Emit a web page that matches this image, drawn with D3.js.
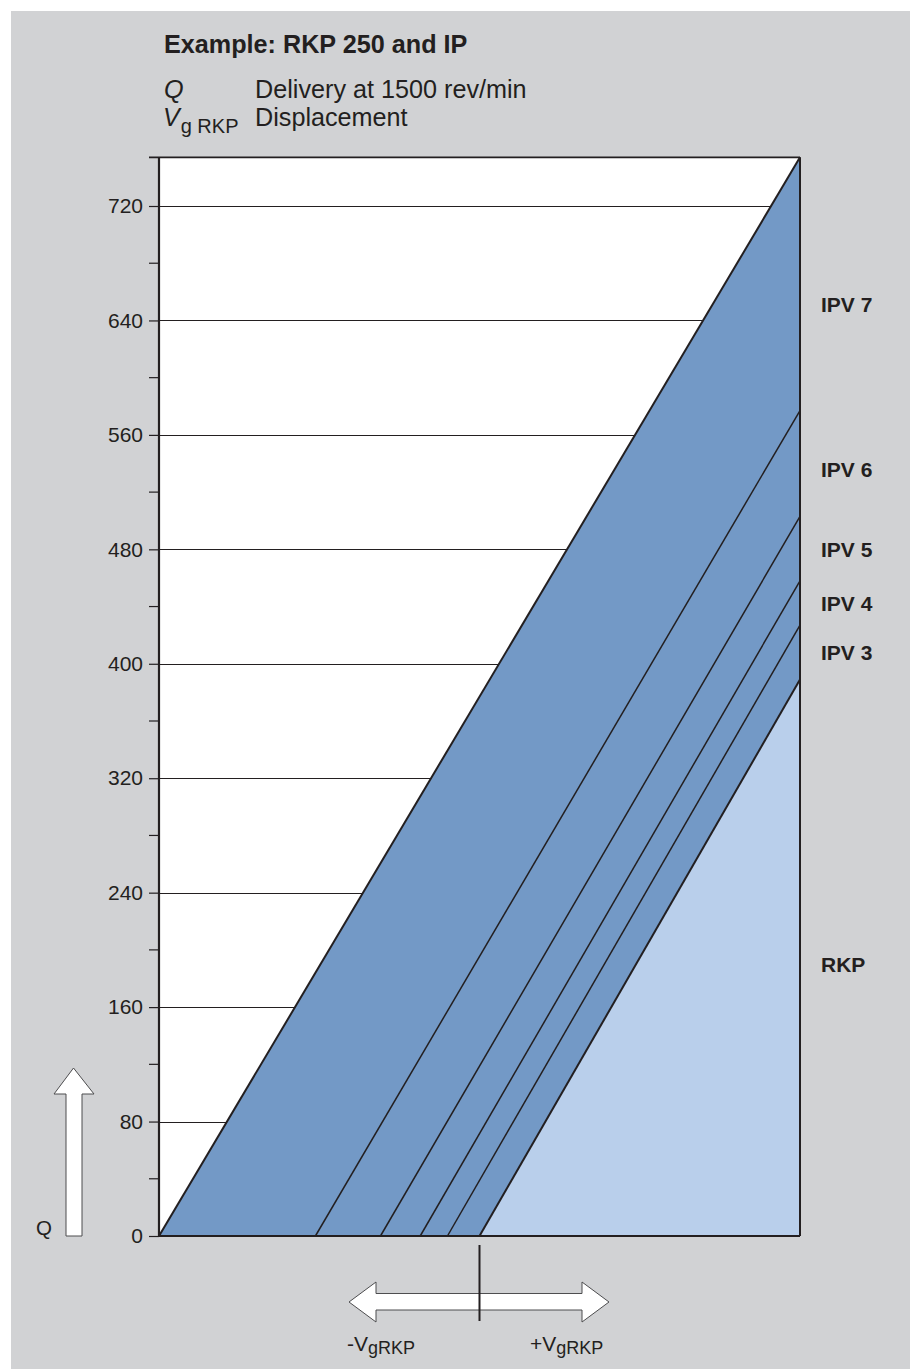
<!DOCTYPE html>
<html>
<head>
<meta charset="utf-8">
<script src="https://cdn.jsdelivr.net/npm/d3@7"></script>
<style>
  body { margin: 0; background: #ffffff; }
  svg { display: block; font-family: "Liberation Sans", Arial, Helvetica, sans-serif; }
</style>
</head>
<body>
<svg id="chart" width="910" height="1369"></svg>
<script>
// Delivery Q (l/min at 1500 rev/min) against RKP displacement, from -Vg to +Vg
const seriesNames = ["IPV 7", "IPV 6", "IPV 5", "IPV 4", "IPV 3", "RKP"];
const zeroDeliveryAt = [-1, -0.512, -0.309, -0.185, -0.100, 0];   // Vg fraction where Q = 0
const deliveryAtFull = [754, 577, 503, 458, 427, 389];              // Q at +Vg
const labelDelivery = [651, 536, 480, 442, 408, 190];               // Q where each name sits
const yTickValues = [0, 80, 160, 240, 320, 400, 480, 560, 640, 720];
const yMinorTickValues = [40, 120, 200, 280, 360, 440, 520, 600, 680];
const qMax = 754;

const ink = "#231f20";
const darkBlue = "#7399c6";
const lightBlue = "#b9cfeb";
const panelGrey = "#d1d2d4";

const svg = d3.select("#chart");

const x = d3.scaleLinear().domain([-1, 1]).range([159, 800]);
const y = d3.scaleLinear().domain([0, 720]).range([1236, 206]);

// grey panel
svg.append("rect").attr("x", 11).attr("y", 11).attr("width", 899).attr("height", 1358)
  .attr("fill", panelGrey);

// plot area
svg.append("rect")
  .attr("x", x(-1)).attr("y", y(qMax))
  .attr("width", x(1) - x(-1)).attr("height", y(0) - y(qMax))
  .attr("fill", "#ffffff");

// horizontal grid
svg.append("g").selectAll("line").data(yTickValues.filter(d => d > 0)).join("line")
  .attr("x1", x(-1)).attr("x2", x(1))
  .attr("y1", d => Math.round(y(d)) + 0.5).attr("y2", d => Math.round(y(d)) + 0.5)
  .attr("stroke", ink).attr("stroke-width", 1);

const line = d3.line().x(d => x(d[0])).y(d => y(d[1]));

// band under the IPV 7 line (all IP pump bands)
const last = seriesNames.length - 1;
svg.append("path")
  .attr("d", line([[zeroDeliveryAt[0], 0], [1, deliveryAtFull[0]], [1, 0]]) + "Z")
  .attr("fill", darkBlue);

// band under the RKP line
svg.append("path")
  .attr("d", line([[zeroDeliveryAt[last], 0], [1, deliveryAtFull[last]], [1, 0]]) + "Z")
  .attr("fill", lightBlue);

// characteristic lines
svg.append("g").selectAll("path").data(seriesNames).join("path")
  .attr("d", (d, i) => line([[zeroDeliveryAt[i], 0], [1, deliveryAtFull[i]]]))
  .attr("fill", "none")
  .attr("stroke", ink)
  .attr("stroke-width", (d, i) => (i === 0 || i === last) ? 2 : 1.5);

// frame
svg.append("line").attr("x1", 149).attr("x2", x(1)).attr("y1", y(qMax)).attr("y2", y(qMax))
  .attr("stroke", ink).attr("stroke-width", 1.6);
svg.append("line").attr("x1", x(1)).attr("x2", x(1)).attr("y1", y(qMax)).attr("y2", y(0))
  .attr("stroke", ink).attr("stroke-width", 2);
svg.append("line").attr("x1", x(-1)).attr("x2", x(1)).attr("y1", y(0)).attr("y2", y(0))
  .attr("stroke", ink).attr("stroke-width", 2.2);

// y axis
const yAxis = d3.axisLeft(y).tickValues(yTickValues).tickSize(10).tickPadding(6)
  .tickFormat(d3.format("d"));
const gAxis = svg.append("g").attr("transform", `translate(${x(-1)},0)`).call(yAxis);
gAxis.select(".domain").attr("d", `M0,${y(qMax)}V${y(0)}`).attr("stroke", ink).attr("stroke-width", 2.2);
gAxis.selectAll(".tick line").attr("stroke", ink).attr("stroke-width", 1.2);
gAxis.selectAll(".tick text").attr("font-size", 21).attr("fill", ink)
  .attr("font-family", "'Liberation Sans', Arial, sans-serif");
gAxis.attr("font-size", null).attr("font-family", null);

svg.append("g").selectAll("line").data(yMinorTickValues).join("line")
  .attr("x1", x(-1) - 10).attr("x2", x(-1))
  .attr("y1", d => y(d)).attr("y2", d => y(d))
  .attr("stroke", ink).attr("stroke-width", 1.2);

// series names at the right edge
svg.append("g").selectAll("text").data(seriesNames).join("text")
  .attr("x", 821)
  .attr("y", (d, i) => y(labelDelivery[i]))
  .attr("dy", "0.36em")
  .attr("font-size", 21).attr("font-weight", "bold").attr("fill", ink)
  .text(d => d);

// title and key
svg.append("text").attr("x", 164).attr("y", 53)
  .attr("font-size", 25.2).attr("font-weight", "bold").attr("fill", ink)
  .text("Example: RKP 250 and IP");

svg.append("text").attr("x", 164).attr("y", 98)
  .attr("font-size", 25.2).attr("font-style", "italic").attr("fill", ink).text("Q");
svg.append("text").attr("x", 255).attr("y", 98)
  .attr("font-size", 25.2).attr("fill", ink).text("Delivery at 1500 rev/min");

const vKey = svg.append("text").attr("x", 163).attr("y", 126).attr("fill", ink);
vKey.append("tspan").attr("font-size", 25).attr("font-style", "italic").text("V");
vKey.append("tspan").attr("font-size", 20).attr("dx", 1).attr("dy", 7).text("g RKP");
svg.append("text").attr("x", 255).attr("y", 126)
  .attr("font-size", 25.2).attr("fill", ink).text("Displacement");

// Q arrow
const qArrow = d3.path();
qArrow.moveTo(66, y(0));
qArrow.lineTo(66, 1094);
qArrow.lineTo(54, 1094);
qArrow.lineTo(73.5, 1068);
qArrow.lineTo(94, 1094);
qArrow.lineTo(82, 1094);
qArrow.lineTo(82, y(0));
qArrow.closePath();
svg.append("path").attr("d", qArrow.toString())
  .attr("fill", "#ffffff").attr("stroke", "#4d4d4f").attr("stroke-width", 1);
svg.append("text").attr("x", 36).attr("y", 1235)
  .attr("font-size", 20.5).attr("fill", ink).text("Q");

// displacement double arrow
const mid = x(0);
const dArrow = d3.path();
dArrow.moveTo(349, 1302);
dArrow.lineTo(376, 1282);
dArrow.lineTo(376, 1293.5);
dArrow.lineTo(582, 1293.5);
dArrow.lineTo(582, 1282);
dArrow.lineTo(609, 1302);
dArrow.lineTo(582, 1322);
dArrow.lineTo(582, 1310);
dArrow.lineTo(376, 1310);
dArrow.lineTo(376, 1322);
dArrow.closePath();
svg.append("path").attr("d", dArrow.toString())
  .attr("fill", "#ffffff").attr("stroke", "#4d4d4f").attr("stroke-width", 1);
svg.append("line").attr("x1", mid).attr("x2", mid).attr("y1", 1245).attr("y2", 1321)
  .attr("stroke", ink).attr("stroke-width", 2);

const negLabel = svg.append("text").attr("x", 347).attr("y", 1351).attr("fill", ink);
negLabel.append("tspan").attr("font-size", 21).text("-V");
negLabel.append("tspan").attr("font-size", 18).attr("dy", 3).text("gRKP");

const posLabel = svg.append("text").attr("x", 530).attr("y", 1351).attr("fill", ink);
posLabel.append("tspan").attr("font-size", 21).text("+V");
posLabel.append("tspan").attr("font-size", 18).attr("dy", 3).text("gRKP");
</script>
</body>
</html>
